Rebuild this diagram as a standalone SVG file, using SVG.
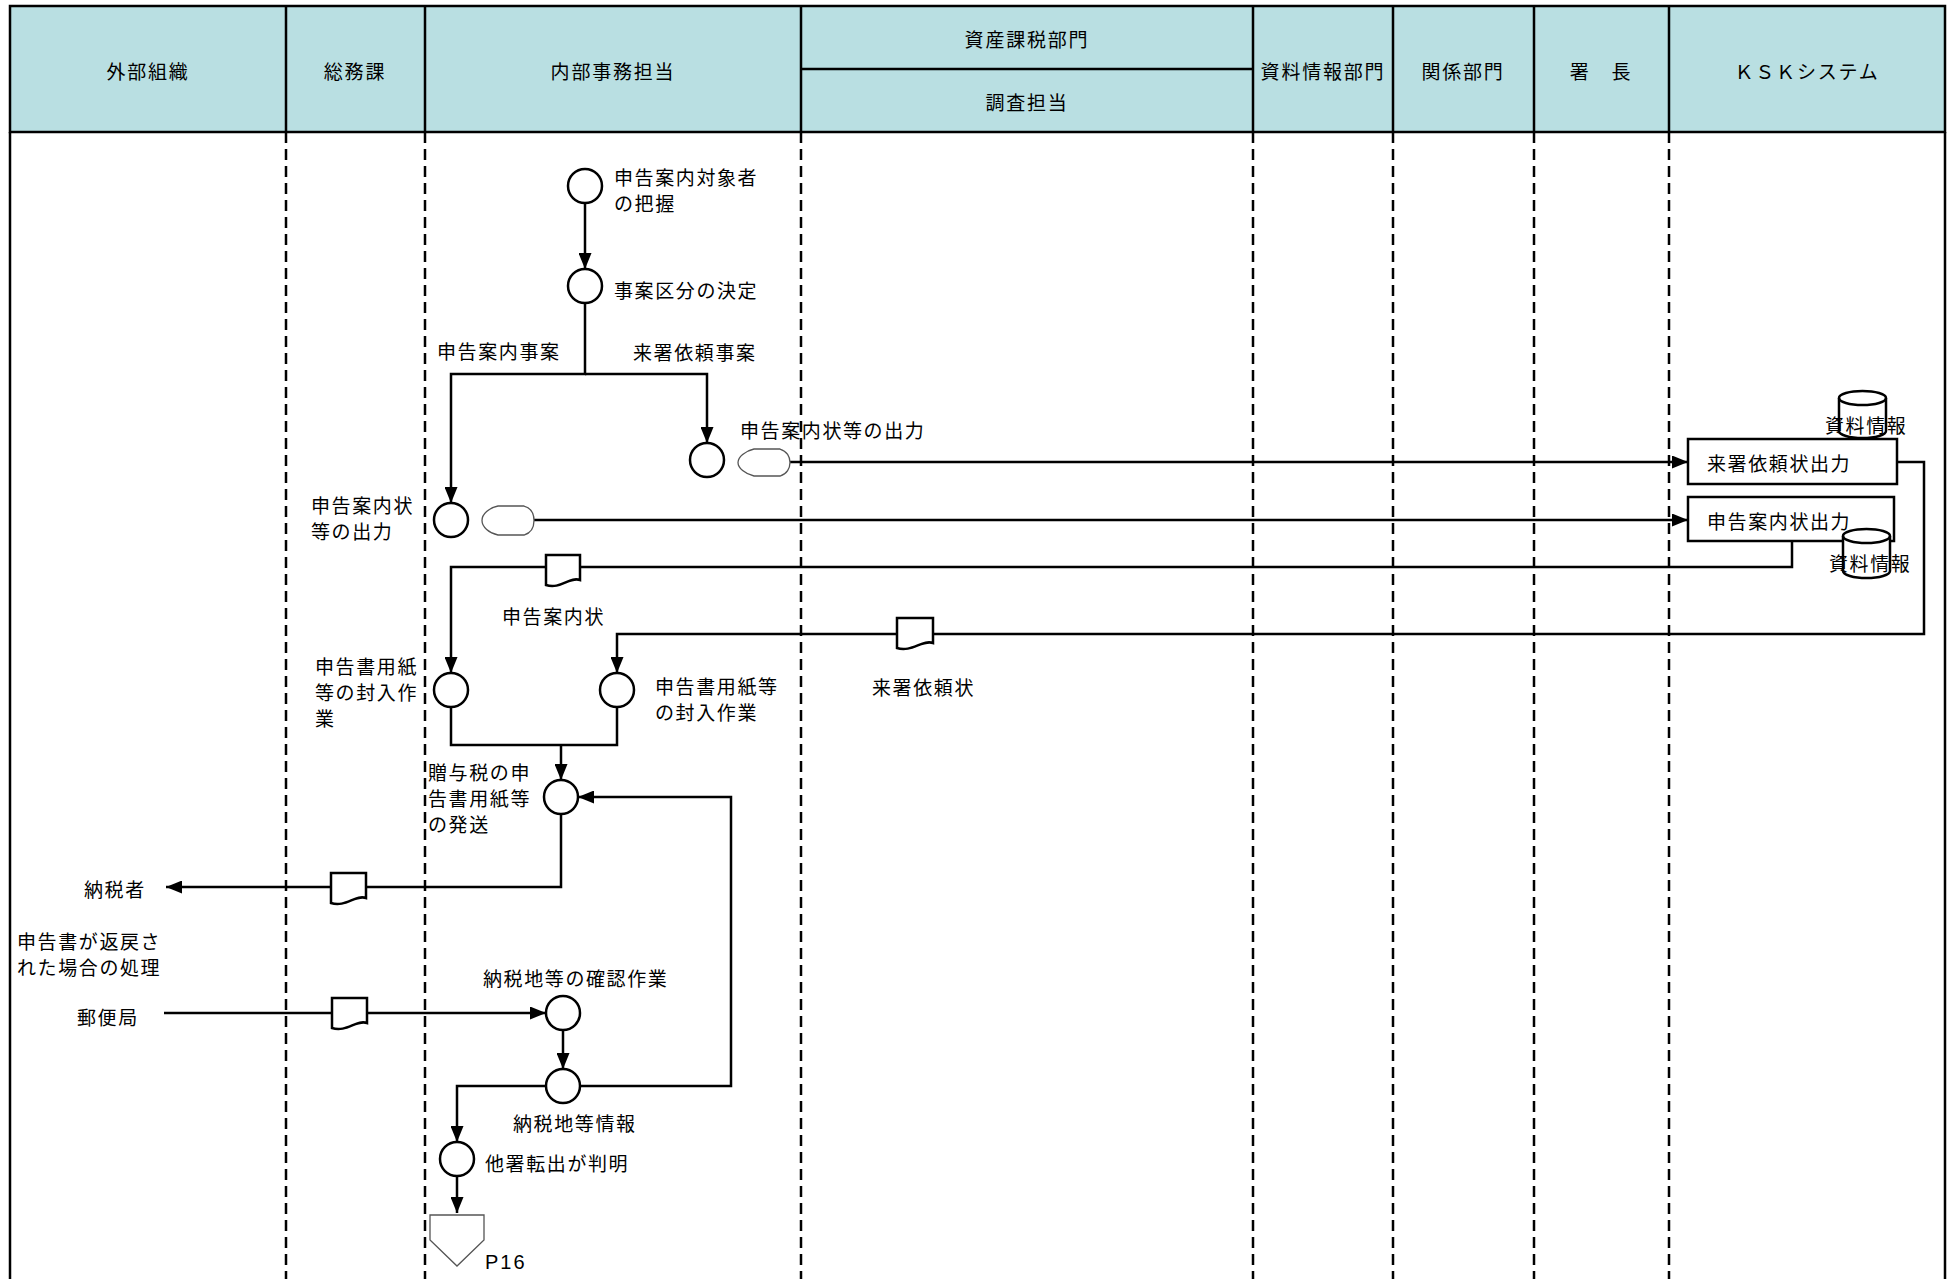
<svg xmlns="http://www.w3.org/2000/svg" width="1959" height="1279" viewBox="0 0 1959 1279">
<defs>
<marker id="arr" viewBox="0 0 16 13" refX="16" refY="6.5" markerWidth="16" markerHeight="13" markerUnits="userSpaceOnUse" orient="auto"><path d="M0,0 L16,6.5 L0,13 Z" fill="#000"/></marker>
</defs>
<style>
text{font-family:"Noto Sans CJK JP","Noto Sans",sans-serif;font-size:19px;fill:#000;dominant-baseline:central;letter-spacing:1.6px}
.h{text-anchor:middle;letter-spacing:1.8px}
.hd{fill:#b9dfe2;stroke:#000;stroke-width:2.5}
.ln{fill:none;stroke:#000;stroke-width:2.5}
.lane{stroke:#000;stroke-width:2.5;stroke-dasharray:11 6}
.c{fill:#fff;stroke:#000;stroke-width:2.5}
.doc{fill:#fff;stroke:#000;stroke-width:2.5}
.disp{fill:#fff;stroke:#555;stroke-width:1.3}
.p{font-family:"Liberation Sans",Arial,sans-serif;font-size:20px;letter-spacing:2px}
</style>
<rect width="1959" height="1279" fill="#fff"/>
<g id="header">
<rect class="hd" x="10" y="6" width="1935" height="126"/>
<path class="ln" d="M286 6V132M425 6V132M801 6V132M1253 6V132M1393 6V132M1534 6V132M1669 6V132M801 69H1253"/>
<text class="h" x="148" y="70">外部組織</text>
<text class="h" x="355" y="70">総務課</text>
<text class="h" x="613" y="70">内部事務担当</text>
<text class="h" x="1027" y="38">資産課税部門</text>
<text class="h" x="1027" y="101">調査担当</text>
<text class="h" x="1323" y="70">資料情報部門</text>
<text class="h" x="1463" y="70">関係部門</text>
<text class="h" x="1601" y="70">署　長</text>
<text class="h" x="1807" y="70">ＫＳＫシステム</text>
</g>
<g id="lanes">
<path class="ln" d="M10 132V1279M1945 132V1279"/>
<path class="lane" d="M286 132V1279M425 132V1279M801 132V1279M1253 132V1279M1393 132V1279M1534 132V1279M1669 132V1279"/>
</g>
<g id="connectors">
<path class="ln" marker-end="url(#arr)" d="M585 203V269"/>
<path class="ln" marker-end="url(#arr)" d="M585 303V374H451V503"/>
<path class="ln" marker-end="url(#arr)" d="M585 374H707V443"/>
<path class="ln" marker-end="url(#arr)" d="M790 462H1688"/>
<path class="ln" marker-end="url(#arr)" d="M534 520H1688"/>
<path class="ln" marker-end="url(#arr)" d="M1792 541V567H451V673"/>
<path class="ln" marker-end="url(#arr)" d="M1897 462H1924V634H617V673"/>
<path class="ln" d="M451 707V745H617V707"/>
<path class="ln" marker-end="url(#arr)" d="M561 745V780"/>
<path class="ln" marker-end="url(#arr)" d="M561 814V887H166"/>
<path class="ln" marker-end="url(#arr)" d="M164 1013H546"/>
<path class="ln" marker-end="url(#arr)" d="M563 1030V1069"/>
<path class="ln" marker-end="url(#arr)" d="M580 1086H731V797H578"/>
<path class="ln" marker-end="url(#arr)" d="M546 1086H457V1142"/>
<path class="ln" marker-end="url(#arr)" d="M457 1176V1213"/>
</g>
<g id="n1"><circle class="c" cx="585" cy="186" r="17"/><text x="614" y="176">申告案内対象者</text><text x="614" y="202">の把握</text></g>
<g id="n2"><circle class="c" cx="585" cy="286" r="17"/><text x="614" y="289">事案区分の決定</text></g>
<g id="lbl-branch"><text x="437" y="350">申告案内事案</text><text x="633" y="351">来署依頼事案</text></g>
<g id="n3"><circle class="c" cx="707" cy="460" r="17"/><text x="740" y="429">申告案内状等の出力</text></g>
<g id="d1"><path class="disp" d="M754 449L780 449C787 451 790 457 790 462.5C790 468 787 474 780 476L754 476C745 474 738 468 738 462.5C738 457 745 451 754 449Z"/></g>
<g id="n4"><circle class="c" cx="451" cy="520" r="17"/><text x="311" y="504">申告案内状</text><text x="311" y="530">等の出力</text></g>
<g id="d2"><path class="disp" d="M498 506L524 506C531 508 534 514 534 520.5C534 527 531 533 524 535L498 535C489 533 482 527 482 520.5C482 514 489 508 498 506Z"/></g>
<g id="box1"><rect class="c" x="1688" y="439" width="209" height="45"/><text x="1707" y="462">来署依頼状出力</text></g>
<g id="box2"><rect class="c" x="1688" y="497" width="206" height="44"/><text x="1707" y="520">申告案内状出力</text></g>
<g id="db1"><path class="c" d="M1839 398A23.5 7 0 0 1 1886 398V431A23.5 7 0 0 1 1839 431Z"/><path class="ln" d="M1839 398A23.5 7 0 0 0 1886 398"/><text x="1825" y="424">資料情報</text></g>
<g id="db2"><path class="c" d="M1843 536A23.5 7 0 0 1 1890 536V571A23.5 7 0 0 1 1843 571Z"/><path class="ln" d="M1843 536A23.5 7 0 0 0 1890 536"/><text x="1829" y="562">資料情報</text></g>
<g id="doc1"><path class="doc" d="M546 555H580V580C570 576 560 590 546 585Z"/><text x="502" y="615">申告案内状</text></g>
<g id="doc2"><path class="doc" d="M897 618H933V643C923 639 911 653 897 648Z"/><text x="872" y="686">来署依頼状</text></g>
<g id="n5"><circle class="c" cx="451" cy="690" r="17"/><text x="315" y="665">申告書用紙</text><text x="315" y="691">等の封入作</text><text x="315" y="717">業</text></g>
<g id="n6"><circle class="c" cx="617" cy="690" r="17"/><text x="655" y="685">申告書用紙等</text><text x="655" y="711">の封入作業</text></g>
<g id="n7"><circle class="c" cx="561" cy="797" r="17"/><text x="428" y="771">贈与税の申</text><text x="428" y="797">告書用紙等</text><text x="428" y="823">の発送</text></g>
<g id="doc3"><path class="doc" d="M331 873H366V898C356 894 345 908 331 903Z"/></g>
<g id="ext1"><text x="84" y="888">納税者</text></g>
<g id="note"><text x="17" y="940">申告書が返戻さ</text><text x="17" y="966">れた場合の処理</text></g>
<g id="ext2"><text x="77" y="1016">郵便局</text></g>
<g id="doc4"><path class="doc" d="M332 998H367V1023C357 1019 346 1033 332 1028Z"/></g>
<g id="n8"><circle class="c" cx="563" cy="1013" r="17"/><text x="483" y="977">納税地等の確認作業</text></g>
<g id="n9"><circle class="c" cx="563" cy="1086" r="17"/><text x="513" y="1122">納税地等情報</text></g>
<g id="n10"><circle class="c" cx="457" cy="1159" r="17"/><text x="485" y="1162">他署転出が判明</text></g>
<g id="offpage"><path class="disp" d="M430 1215H484V1240L457 1266L430 1240Z"/><text class="p" x="485" y="1262">P16</text></g>
</svg>
